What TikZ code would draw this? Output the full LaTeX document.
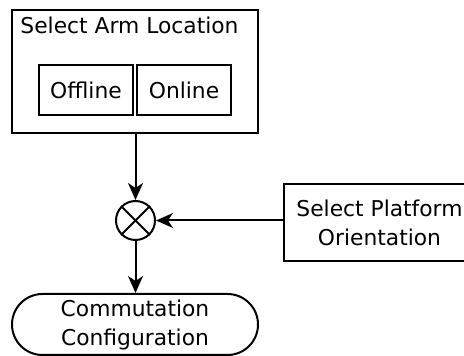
\documentclass[tikz,border=0pt]{standalone}
\usepackage{fontspec}
\setmainfont{DejaVu Sans}
\usetikzlibrary{arrows.meta,shapes.misc}
\begin{document}
\begin{tikzpicture}[x=0.5pt,y=-0.5pt,
  line width=1pt,
  every node/.style={font=\fontsize{10.9}{14.5}\selectfont, inner sep=0pt},
  box/.style={draw, rectangle, align=center},
  arr/.style={-{Stealth[length=8.5pt,width=7.5pt,inset=2.5pt]}},
  mixer/.style={draw, circle, minimum size=19.5pt},
  terminal/.style={draw, rounded rectangle, rounded rectangle arc length=180, align=center}
]
\useasboundingbox (0,0) rectangle (464,356);
\clip (0,0) rectangle (464,356);

% arm location group
\node[box, minimum width=123pt, minimum height=61.5pt] (arm) at (135,71.5) {};
\node[anchor=base] (armt) at (129.5,34) {Select Arm Location};
\node[box, minimum width=47pt, minimum height=25pt] (off) at (86,90) {Offline};
\node[box, minimum width=47pt, minimum height=25pt] (on) at (184,90) {Online};

% combining junction
\node[mixer] (mix) at (135.5,220.5) {};
\draw (mix.45) -- (mix.225);
\draw (mix.135) -- (mix.-45);

% platform orientation
\node[box, minimum width=95.5pt, minimum height=38.5pt] (plat) at (379.5,222.5) {Select Platform\\Orientation};

% result
\node[terminal, minimum width=123pt, minimum height=30.5pt] (res) at (135,324.5) {Commutation\\Configuration};

\draw[arr] (arm.south -| mix.north) -- (mix.north);
\draw[arr] (plat.west |- mix.east) -- (mix.east);
\draw[arr] (mix.south) -- (res.north -| mix.south);
\end{tikzpicture}
\end{document}
